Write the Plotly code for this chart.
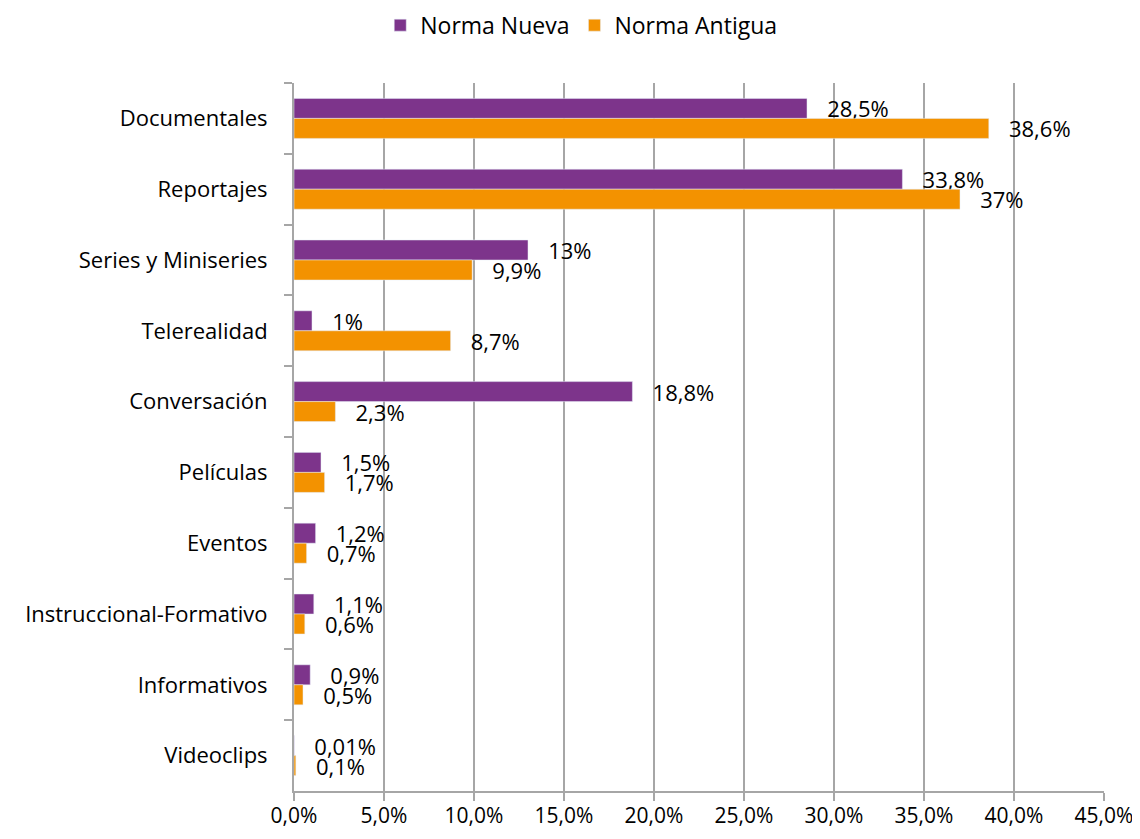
import plotly.graph_objects as go

categories = ["Documentales", "Reportajes", "Series y Miniseries", "Telerealidad",
              "Conversación", "Películas", "Eventos", "Instruccional-Formativo",
              "Informativos", "Videoclips"]
norma_nueva = [28.5, 33.8, 13, 1, 18.8, 1.5, 1.2, 1.1, 0.9, 0.01]
norma_antigua = [38.6, 37, 9.9, 8.7, 2.3, 1.7, 0.7, 0.6, 0.5, 0.1]
nueva_labels = ["28,5%", "33,8%", "13%", "1%", "18,8%", "1,5%", "1,2%", "1,1%", "0,9%", "0,01%"]
antigua_labels = ["38,6%", "37%", "9,9%", "8,7%", "2,3%", "1,7%", "0,7%", "0,6%", "0,5%", "0,1%"]
x_ticks = [0, 5, 10, 15, 20, 25, 30, 35, 40, 45]
x_tick_labels = ["0,0%", "5,0%", "10,0%", "15,0%", "20,0%", "25,0%", "30,0%", "35,0%", "40,0%", "45,0%"]

font = "Open Sans"
fs = 22
grid = "#A6A6A6"

fig = go.Figure()
fig.add_trace(go.Bar(y=categories, x=norma_nueva, orientation="h", name="Norma Nueva",
                     marker_color="#7D348B", text=["   " + t for t in nueva_labels],
                     textposition="outside", constraintext="none", cliponaxis=False,
                     textfont=dict(size=fs, color="#000000", family=font)))
fig.add_trace(go.Bar(y=categories, x=norma_antigua, orientation="h", name="Norma Antigua",
                     marker_color="#F39200", text=["   " + t for t in antigua_labels],
                     textposition="outside", constraintext="none", cliponaxis=False,
                     textfont=dict(size=fs, color="#000000", family=font)))

# page body adds an 8px margin all round, so keep the figure inside the window
fig.update_layout(
    width=1124, height=823,
    margin=dict(l=286, r=28, t=75, b=40, autoexpand=False),
    plot_bgcolor="white", paper_bgcolor="white",
    barmode="group", bargap=0.435, bargroupgap=0,
    font=dict(family=font, size=fs, color="#000000"),
    legend=dict(orientation="h", xref="container", x=0.51, xanchor="center",
                yref="paper", y=1.112, yanchor="top", font=dict(size=23)),
    showlegend=True,
)
fig.update_xaxes(range=[0, 45], tickvals=x_ticks, ticktext=x_tick_labels,
                 showgrid=True, gridcolor=grid, gridwidth=2,
                 showline=True, linecolor=grid, linewidth=2,
                 ticks="outside", ticklen=8, tickcolor=grid, tickwidth=2,
                 zeroline=False, tickfont=dict(size=21), ticklabelstandoff=-3,
                 automargin=False, ticklabeloverflow="allow")
fig.update_yaxes(autorange="reversed", showline=True, linecolor=grid, linewidth=2,
                 ticks="outside", tickson="boundaries", ticklen=8, tickcolor=grid,
                 tickwidth=2, showgrid=False, tickfont=dict(size=fs), ticklabelstandoff=20,
                 automargin=False)

fig.write_html("out.html")
